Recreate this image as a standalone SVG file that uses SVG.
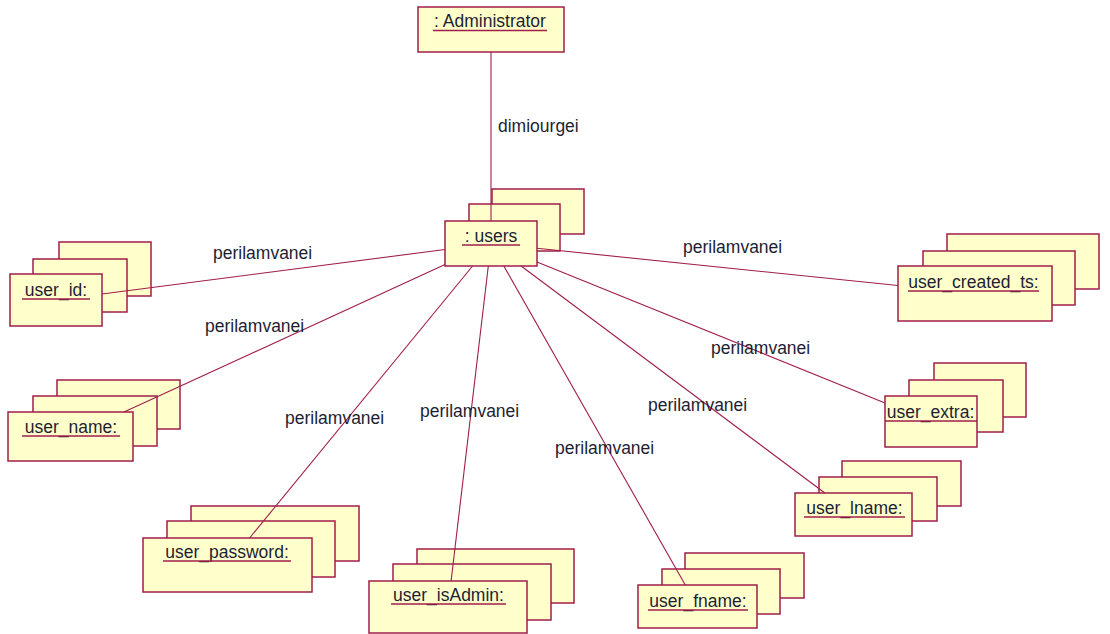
<svg xmlns="http://www.w3.org/2000/svg" width="1110" height="634" viewBox="0 0 1110 634">
  <style>
    .box { fill: #FFFFCC; stroke: #A01E4B; stroke-width: 1.5; }
    .name { font-family: "Liberation Sans", Arial, sans-serif; font-size: 17.5px; fill: #1E1E32; text-anchor: middle; }
    .ul { stroke: #A01E4B; stroke-width: 1.5; }
    .conn { stroke: #A01E4B; stroke-width: 1.1; fill: none; }
    .lbl { font-family: "Liberation Sans", Arial, sans-serif; font-size: 17.5px; fill: #1E1E32; }
  </style>
  <rect width="1110" height="634" fill="#FFFFFF"/>

  <!-- object nodes -->
  <g id="administrator">
    <rect class="box" x="418" y="7" width="146" height="45"/>
    <text class="name" x="490" y="27">: Administrator</text>
    <line class="ul" x1="433" y1="30.5" x2="547" y2="30.5"/>
  </g>

  <g id="users">
    <rect class="box" x="492" y="189" width="92" height="45"/>
    <rect class="box" x="469" y="204" width="91" height="47"/>
    <rect class="box" x="445" y="221" width="92" height="45"/>
    <text class="name" x="491" y="242">: users</text>
    <line class="ul" x1="462" y1="245" x2="520" y2="245"/>
  </g>

  <g id="user_id">
    <rect class="box" x="59" y="242" width="92" height="54"/>
    <rect class="box" x="33" y="259" width="94" height="53"/>
    <rect class="box" x="10" y="274" width="92" height="52"/>
    <text class="name" x="56" y="296">user_id:</text>
    <line class="ul" x1="22" y1="299" x2="90" y2="299"/>
  </g>

  <g id="user_name">
    <rect class="box" x="57" y="380" width="123" height="49"/>
    <rect class="box" x="33" y="396" width="124" height="50"/>
    <rect class="box" x="8" y="412" width="125" height="49"/>
    <text class="name" x="71" y="433">user_name:</text>
    <line class="ul" x1="22" y1="436" x2="120" y2="436"/>
  </g>

  <g id="user_password">
    <rect class="box" x="191" y="506" width="168" height="55"/>
    <rect class="box" x="167" y="521" width="168" height="56"/>
    <rect class="box" x="143" y="538" width="169" height="54"/>
    <text class="name" x="227" y="558">user_password:</text>
    <line class="ul" x1="163" y1="561" x2="291" y2="561"/>
  </g>

  <g id="user_isAdmin">
    <rect class="box" x="417" y="549" width="157" height="54"/>
    <rect class="box" x="393" y="564" width="158" height="56"/>
    <rect class="box" x="369" y="581" width="158" height="52"/>
    <text class="name" x="448.5" y="601">user_isAdmin:</text>
    <line class="ul" x1="391" y1="604" x2="506" y2="604"/>
  </g>

  <g id="user_fname">
    <rect class="box" x="685" y="553" width="119" height="45"/>
    <rect class="box" x="662" y="569" width="118" height="45"/>
    <rect class="box" x="638" y="585" width="119" height="43"/>
    <text class="name" x="698" y="607">user_fname:</text>
    <line class="ul" x1="648" y1="610" x2="748" y2="610"/>
  </g>

  <g id="user_lname">
    <rect class="box" x="842" y="461" width="119" height="45"/>
    <rect class="box" x="819" y="477" width="118" height="44"/>
    <rect class="box" x="795" y="493" width="117" height="43"/>
    <text class="name" x="854.5" y="514">user_lname:</text>
    <line class="ul" x1="804" y1="517" x2="905" y2="517"/>
  </g>

  <g id="user_extra">
    <rect class="box" x="934" y="363" width="92" height="54"/>
    <rect class="box" x="909" y="380" width="94" height="52"/>
    <rect class="box" x="885" y="396" width="92" height="51"/>
    <text class="name" x="930.5" y="418">user_extra:</text>
    <line class="ul" x1="885" y1="421" x2="977" y2="421"/>
  </g>

  <g id="user_created_ts">
    <rect class="box" x="947" y="234" width="152" height="55"/>
    <rect class="box" x="923" y="251" width="152" height="54"/>
    <rect class="box" x="898" y="266" width="154" height="55"/>
    <text class="name" x="973.5" y="288">user_created_ts:</text>
    <line class="ul" x1="908" y1="291" x2="1039" y2="291"/>
  </g>

  <!-- links between objects, with their labels -->
  <g id="connectors">
    <line class="conn" x1="491" y1="52" x2="491" y2="221"/>
    <line class="conn" x1="445" y1="249.5" x2="102" y2="294"/>
    <line class="conn" x1="445" y1="264.6" x2="124" y2="412"/>
    <line class="conn" x1="472.6" y1="266" x2="249.6" y2="538"/>
    <line class="conn" x1="488.3" y1="266" x2="451.1" y2="581"/>
    <line class="conn" x1="503.8" y1="266" x2="685.3" y2="585"/>
    <line class="conn" x1="521.1" y1="266" x2="824.8" y2="493"/>
    <line class="conn" x1="537" y1="262.1" x2="885" y2="402.9"/>
    <line class="conn" x1="537" y1="248.3" x2="898" y2="285.5"/>

    <text class="lbl" x="498" y="132">dimiourgei</text>
    <text class="lbl" x="213" y="259">perilamvanei</text>
    <text class="lbl" x="205" y="332">perilamvanei</text>
    <text class="lbl" x="285" y="424">perilamvanei</text>
    <text class="lbl" x="420" y="417">perilamvanei</text>
    <text class="lbl" x="555" y="454">perilamvanei</text>
    <text class="lbl" x="648" y="411">perilamvanei</text>
    <text class="lbl" x="711" y="354">perilamvanei</text>
    <text class="lbl" x="683" y="253">perilamvanei</text>
  </g>
</svg>
